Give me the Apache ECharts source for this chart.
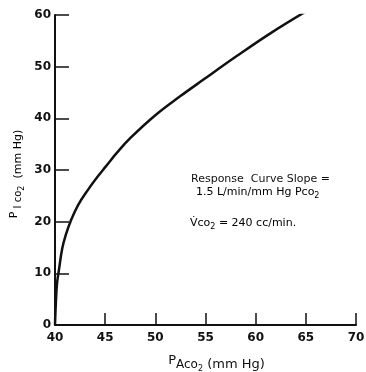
<!DOCTYPE html>
<html>
<head>
<meta charset="utf-8">
<script src="https://cdn.jsdelivr.net/npm/echarts@6/dist/echarts.min.js"></script>
<style>
  html, body { margin: 0; padding: 0; background: #fff; }
  #chart { width: 366px; height: 372px; }
</style>
</head>
<body>
<div id="chart"></div>
<script>
// alveolar PCO2 (x) vs inspired PCO2 (y)
var pAco2 = [40, 40.08, 40.2, 40.38, 40.72, 41.1, 41.54, 42.3, 43.37, 44.2, 45.03, 46.2, 47.52, 50, 52.5, 54.8, 58.15, 61.5, 65.1];
var pIco2 = [0, 4, 8, 10.5, 14.8, 17.6, 20, 23.2, 26.4, 28.6, 30.6, 33.4, 36.2, 40.6, 44.3, 47.5, 52.1, 56.5, 60.8];

var xTicks = [40, 45, 50, 55, 60, 65, 70];
var yTicks = [0, 10, 20, 30, 40, 50, 60];

var FONT = 'DejaVu Sans';
var INK = '#111';

var points = pAco2.map(function (x, i) { return [x, pIco2[i]]; });

var myChart = echarts.init(document.getElementById('chart'));

function nameStyles(size) {
    return {
        p: { fontFamily: FONT, fontSize: size, color: INK, padding: [0, 0, 8, 0] },
        s: { fontFamily: FONT, fontSize: size - 1, color: INK },
        ss: { fontFamily: FONT, fontSize: 8, color: INK, padding: [8, 0, 0, 0] },
        t: { fontFamily: FONT, fontSize: size, color: INK }
    };
}

myChart.setOption({
    animation: false,
    backgroundColor: '#fff',
    grid: { left: 55, right: 10, top: 15, bottom: 47, outerBoundsMode: 'none' },
    xAxis: {
        type: 'value',
        min: xTicks[0],
        max: xTicks[xTicks.length - 1],
        interval: 5,
        name: '{p|P}{s|Aco}{ss|2}{t| (mm Hg)}',
        nameLocation: 'middle',
        nameGap: 29,
        nameTextStyle: { padding: [0, 0, 0, 22], rich: nameStyles(13) },
        axisLine: { lineStyle: { color: INK, width: 2 } },
        axisTick: { inside: true, length: 12, lineStyle: { color: INK, width: 1.5 } },
        axisLabel: { color: INK, fontFamily: FONT, fontSize: 12, fontWeight: 'bold', margin: 7 },
        splitLine: { show: false }
    },
    yAxis: {
        type: 'value',
        min: yTicks[0],
        max: yTicks[yTicks.length - 1],
        interval: 10,
        axisLine: { lineStyle: { color: INK, width: 2 } },
        axisTick: { inside: true, length: 14, lineStyle: { color: INK, width: 1.5 } },
        axisLabel: { color: INK, fontFamily: FONT, fontSize: 12, fontWeight: 'bold', margin: 4 },
        splitLine: { show: false }
    },
    graphic: [
        {
            // y axis title, drawn rotated
            type: 'text',
            x: 18,
            y: 174,
            rotation: Math.PI / 2,
            style: {
                text: '{p|P}{s| I co}{ss|2}{t|  (mm Hg)}',
                rich: nameStyles(11),
                align: 'center',
                verticalAlign: 'middle'
            }
        },
        {
            type: 'text',
            left: 191,
            top: 174,
            style: {
                text: 'Response  Curve Slope =',
                font: '11px "DejaVu Sans"',
                fill: INK
            }
        },
        {
            type: 'text',
            left: 196,
            top: 187,
            style: {
                text: '{t|1.5 L/min/mm Hg Pco}{ss|2}',
                rich: {
                    t: { fontFamily: FONT, fontSize: 11, color: INK },
                    ss: { fontFamily: FONT, fontSize: 8, color: INK, padding: [7, 0, 0, 0] }
                }
            }
        },
        {
            type: 'text',
            left: 190,
            top: 218,
            style: {
                text: '{t|V\u0307co}{ss|2}{t| = 240 cc/min.}',
                rich: {
                    t: { fontFamily: FONT, fontSize: 11, color: INK },
                    ss: { fontFamily: FONT, fontSize: 8, color: INK, padding: [7, 0, 0, 0] }
                }
            }
        }
    ],
    series: [{
        type: 'line',
        data: points,
        smooth: 0.4,
        showSymbol: false,
        lineStyle: { color: INK, width: 2.5 }
    }]
});
</script>
</body>
</html>
